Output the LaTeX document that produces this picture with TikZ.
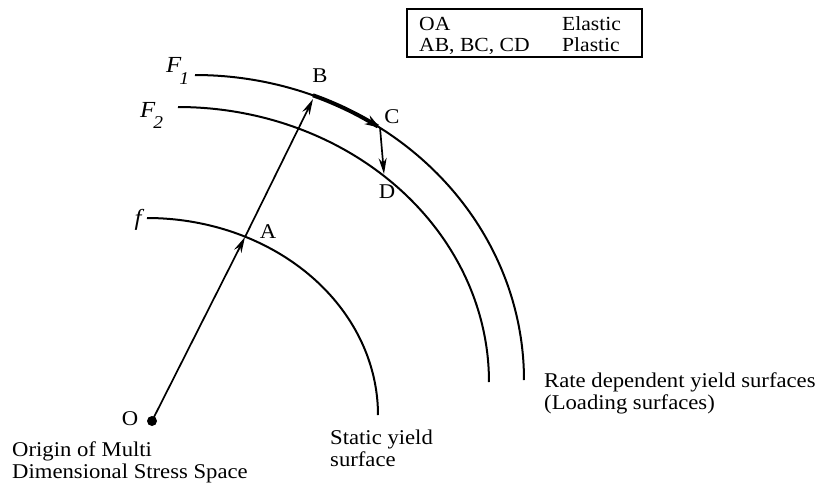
\documentclass[tikz,border=0pt]{standalone}
\usepackage{fontspec}
\setmainfont{Liberation Serif}[FakeStretch=1.08]
\usetikzlibrary{arrows.meta}
\begin{document}
\begin{tikzpicture}[x=1pt,y=-1pt,
  surf/.style={line width=2pt},
  vec/.style={line width=1.7pt,-{Stealth[length=16pt,width=8pt]}},
  lbl/.style={inner sep=0pt,font=\fontsize{21}{23}\selectfont},
  txt/.style={inner sep=0pt,anchor=base west,align=left,font=\fontsize{21}{22}\selectfont}]
\useasboundingbox (0,0) rectangle (823,491);
% yield surfaces
\draw[surf] plot[domain=0:90,samples=90] ({147+231*sin(\x)},{415-197*cos(\x)});
\draw[surf] plot[domain=0:90,samples=90] ({178+311*sin(\x)},{382-275*cos(\x)});
\draw[surf] plot[domain=0:90,samples=90] ({195+329*sin(\x)},{380-305*cos(\x)});
% points
\coordinate (O) at (152,421);
\coordinate (A) at (245,237);
\coordinate (Bt) at (313,99);
\coordinate (C) at (380,127.5);
\coordinate (D) at (384,174);
\fill (O) circle[radius=5];
\draw[vec] (O) -- (A);
\draw[vec] (A) -- (Bt);
\draw[line width=4pt,-{Stealth[length=15pt,width=10pt]}] plot[domain=21:34.2,samples=30] ({195+329*sin(\x)},{380-305*cos(\x)});
\draw[vec] (C) -- (D);
% labels
\node[lbl,anchor=base west] (F1) at (166,72) {\fontsize{23}{23}\selectfont\itshape F\kern-2pt\raisebox{-12pt}{\fontsize{18}{18}\selectfont 1}};
\node[lbl,anchor=base west] (F2) at (140,117) {\fontsize{23}{23}\selectfont\itshape F\kern-2pt\raisebox{-11pt}{\fontsize{18}{18}\selectfont 2}};
\node[lbl,anchor=base] (fl) at (138,225) {\fontsize{23}{23}\selectfont\itshape f};
\node[lbl] (Al) at (268,232) {A};
\node[lbl] (Bl) at (320,76) {B};
\node[lbl] (Cl) at (392,117) {C};
\node[lbl] (Dl) at (387,192) {D};
\node[lbl] (Ol) at (130,419) {O};
\node[txt] (orig) at (12,478) {Origin of Multi\\Dimensional Stress Space};
\node[txt] (stat) at (330,466) {Static yield\\surface};
\node[txt] (rate) at (544,409) {Rate dependent yield surfaces\\(Loading surfaces)};
% legend
\draw[line width=1.3pt] (407,9) rectangle (642,57);
\node[txt,font=\fontsize{20}{21}\selectfont] (leg) at (419,51)
  {\makebox[143pt][l]{OA}Elastic\\\makebox[143pt][l]{AB, BC, CD}Plastic};
\end{tikzpicture}
\end{document}
